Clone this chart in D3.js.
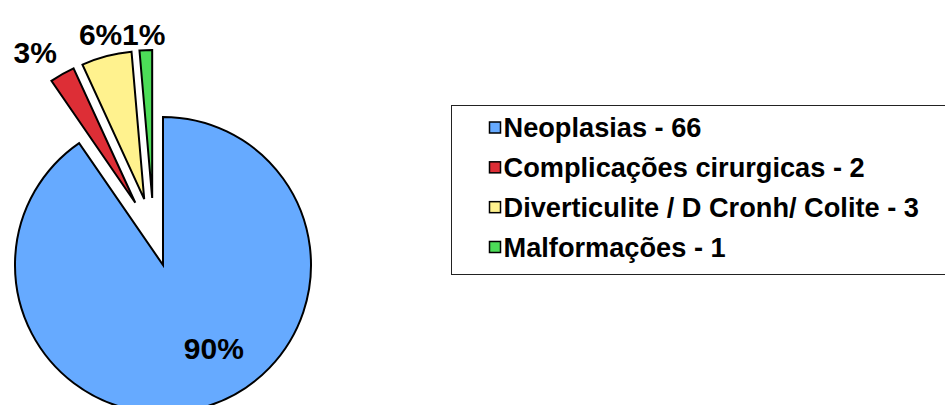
<!DOCTYPE html>
<html>
<head>
<meta charset="utf-8">
<script src="https://cdn.jsdelivr.net/npm/d3@7"></script>
<style>
  html, body { margin: 0; padding: 0; background: #fff; }
  svg { display: block; }
  text { font-family: "Liberation Sans", Arial, sans-serif; font-weight: bold; fill: #000; }
</style>
</head>
<body>
<div id="chart"></div>
<script>
// slice sizes (angles), legend counts are kept as printed
const categories = ["Neoplasias", "Complicações cirurgicas", "Diverticulite / D Cronh/ Colite", "Malformações"];
const sliceValues = [66, 2, 4, 1];
const legendCounts = [66, 2, 3, 1];
const pctLabels = ["90%", "3%", "6%", "1%"];
const colors = ["#66AAFF", "#DD2E36", "#FFF28E", "#4CDD58"];

(function () {
  const width = 945, height = 405;
  const cx = 153.8, cy = 235.4, radius = 148;

  // explosion per slice and label placement (polar, relative to exploded slice)
  const explode = [31, 37.5, 37.5, 37.5];
  const labelNudge = [-14, -4, 0, -0.5];
  const labelRadius = [98, 181, 171, 164];

  const svg = d3.select("#chart").append("svg")
    .attr("width", width)
    .attr("height", height);

  const pie = d3.pie().sort(null).value(d => d);
  const arcs = pie(sliceValues);
  const arc = d3.arc().innerRadius(0).outerRadius(radius);

  const polar = (angle, r) => [Math.sin(angle) * r, -Math.cos(angle) * r];

  const g = svg.append("g").attr("transform", `translate(${cx},${cy})`);

  const slices = g.selectAll("g.slice")
    .data(arcs)
    .join("g")
    .attr("class", "slice")
    .attr("transform", (d, i) => {
      const [dx, dy] = polar((d.startAngle + d.endAngle) / 2, explode[i]);
      return `translate(${dx},${dy})`;
    });

  slices.append("path")
    .attr("d", arc)
    .attr("fill", (d, i) => colors[i])
    .attr("stroke", "#000")
    .attr("stroke-width", 2)
    .attr("stroke-linejoin", "miter");

  slices.append("text")
    .attr("x", (d, i) => polar((d.startAngle + d.endAngle) / 2 + labelNudge[i] * Math.PI / 180, labelRadius[i])[0])
    .attr("y", (d, i) => polar((d.startAngle + d.endAngle) / 2 + labelNudge[i] * Math.PI / 180, labelRadius[i])[1] + 10.7)
    .attr("text-anchor", "middle")
    .attr("font-size", "30px")
    .text((d, i) => pctLabels[i]);

  // Legend
  const legend = svg.append("g");
  legend.append("rect")
    .attr("x", 451.5).attr("y", 105.5)
    .attr("width", 500).attr("height", 169)
    .attr("fill", "#fff")
    .attr("stroke", "#222")
    .attr("stroke-width", 1);

  const rowY = d3.scalePoint().domain(d3.range(categories.length)).range([127.5, 247]);

  categories.forEach((c, i) => {
    legend.append("rect")
      .attr("x", 489.5).attr("y", rowY(i) - 5.5)
      .attr("width", 11).attr("height", 11)
      .attr("fill", colors[i])
      .attr("stroke", "#000")
      .attr("stroke-width", 1.5);
    legend.append("text")
      .attr("x", 503.5)
      .attr("y", rowY(i) + 9.8)
      .attr("font-size", "27.2px")
      .text(`${c} - ${legendCounts[i]}`);
  });
})();
</script>
</body>
</html>
